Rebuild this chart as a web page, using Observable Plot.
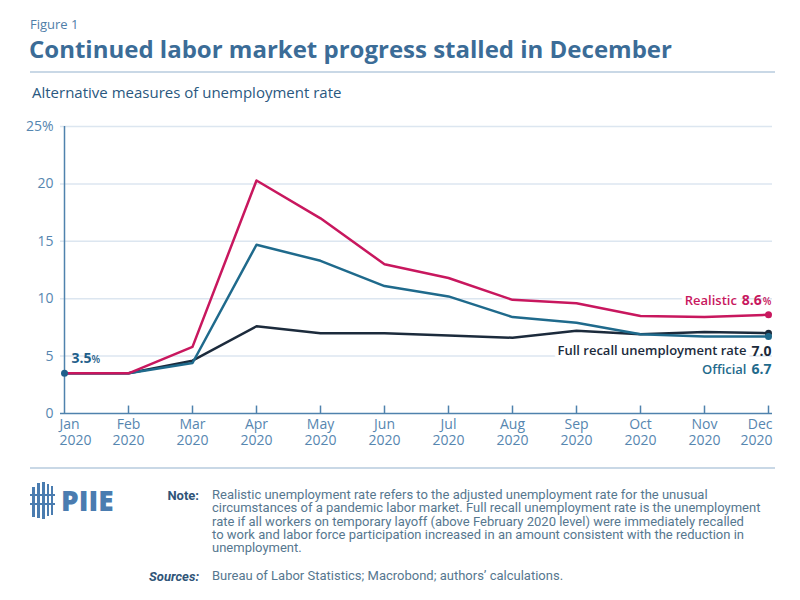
<!DOCTYPE html>
<html><head><meta charset="utf-8">
<script src="https://cdn.jsdelivr.net/npm/d3@7"></script>
<script src="https://cdn.jsdelivr.net/npm/@observablehq/plot@0.6"></script>
<style>
body{margin:0;background:#fff;width:800px;height:600px;position:relative;font-family:"Open Sans",sans-serif;overflow:hidden}
.abs{position:absolute;white-space:nowrap}
.note{position:absolute;left:212px;top:488px;font-family:Roboto,sans-serif;font-size:13px;line-height:13.3px;color:#56778f;white-space:nowrap}
.lab{position:absolute;font-family:Roboto,sans-serif;font-size:13px;font-weight:700;color:#2f5478;text-align:right;width:60px}
</style></head><body>
<div class="abs" style="left:30px;top:15px;font-size:13px;color:#4f7ea8">Figure 1</div>
<div class="abs" style="left:29px;top:32px;font-size:24px;font-weight:700;color:#3b6c97">Continued labor market progress stalled in December</div>
<div style="position:absolute;left:30px;top:71px;width:745px;height:2px;background:#c9d8e6"></div>
<div class="abs" style="left:32px;top:82px;font-size:15px;color:#2a5880">Alternative measures of unemployment rate</div>
<div id="chart" style="position:absolute;left:0;top:110px"></div>
<div style="position:absolute;left:30px;top:467px;width:745px;height:2px;background:#c9d8e6"></div>
<svg style="position:absolute;left:28px;top:480px" width="95" height="42" viewBox="0 0 95 42">
  <g fill="#4a7cb0">
    <rect x="4" y="7" width="3" height="30"/><rect x="9" y="3" width="3" height="35"/><rect x="14" y="2" width="3" height="37"/>
    <rect x="19" y="4" width="2" height="32"/><rect x="23" y="6" width="2" height="29"/>
    <rect x="2" y="14" width="25" height="2"/><rect x="2" y="23" width="25" height="2"/>
  </g>
  <text x="33" y="31" font-family="Open Sans" font-weight="800" font-size="28" fill="#4a7cb0">PIIE</text>
</svg>
<div class="lab" style="left:139px;top:488px">Note:</div>
<div class="note">Realistic unemployment rate refers to the adjusted unemployment rate for the unusual<br>circumstances of a pandemic labor market. Full recall unemployment rate is the unemployment<br>rate if all workers on temporary layoff (above February 2020 level) were immediately recalled<br>to work and labor force participation increased in an amount consistent with the reduction in<br>unemployment.</div>
<div class="lab" style="left:139px;top:569px;font-style:italic">Sources:</div>
<div class="note" style="top:569px">Bureau of Labor Statistics; Macrobond; authors’ calculations.</div>
<script>
const months = ["Jan","Feb","Mar","Apr","May","Jun","Jul","Aug","Sep","Oct","Nov","Dec"];
const year = "2020";
const realistic  = [3.5,3.5,5.8,20.3,17.0,13.0,11.8,9.9,9.6,8.5,8.4,8.6];
const official   = [3.5,3.5,4.4,14.7,13.3,11.1,10.2,8.4,7.9,6.9,6.7,6.7];
const fullRecall = [3.5,3.5,4.6,7.6,7.0,7.0,6.8,6.6,7.2,6.9,7.1,7.0];
const seriesNames = ["Full recall unemployment rate","Official","Realistic"];
const seriesColors = ["#1c2b3c","#1f6a8c","#c8175e"];
const endLabels = ["Full recall unemployment rate","Official","Realistic"];
const endValues = ["7.0","6.7","8.6"];
const endPct = ["","","%"];
const yTicks = [0,5,10,15,20,25];

const seriesValues = [fullRecall, official, realistic];
const rows = seriesNames.flatMap((s,i) => months.map((m,j) => ({series: s, month: m, value: seriesValues[i][j]})));
const ends = rows.filter(d => d.month === months[months.length-1]);
const start = rows.filter(d => d.series === "Official" && d.month === months[0]);
const colorOf = s => seriesColors[seriesNames.indexOf(s)];

const ctx = document.createElement("canvas").getContext("2d");
function tw(str, size, weight) { ctx.font = `${weight} ${size}px "Open Sans"`; return ctx.measureText(str).width; }

const axisColor = "#4f82ad";
const labDy = {"Realistic": -14, "Full recall unemployment rate": 18, "Official": 33};
const labelRows = ends.map(d => {
  const i = endLabels.indexOf(d.series);
  const pw = endPct[i] ? tw(endPct[i], 10, 600) + 1 : 0;
  const vw = tw(endValues[i], 14, 700);
  return {...d, name: endLabels[i], val: endValues[i], pct: endPct[i], pw, vw};
});

const textMarks = [];
for (const d of labelRows) {
  const dy = labDy[d.series];
  const fill = colorOf(d.series);
  textMarks.push(Plot.text([d], {x: "month", y: "value", text: "name", textAnchor: "end", dx: 3 - d.pw - d.vw - 5, dy, fill, fontSize: 13, fontWeight: 600, stroke: "white", strokeWidth: 8}));
  textMarks.push(Plot.text([d], {x: "month", y: "value", text: "val", textAnchor: "end", dx: 3 - d.pw, dy, fill, fontSize: 14, fontWeight: 700}));
  if (d.pct) textMarks.push(Plot.text([d], {x: "month", y: "value", text: "pct", textAnchor: "end", dx: 3, dy: dy + 1, fill, fontSize: 10, fontWeight: 600}));
}
const sv = start[0];
const svw = tw(sv.value.toFixed(1), 14, 700);

const xLab = d => `${d}\n${year}`;
const plot = Plot.plot({
  width: 800, height: 360,
  marginLeft: 60, marginRight: 28, marginTop: 16, marginBottom: 57,
  x: {type: "point", domain: months, padding: 0},
  y: {domain: [0, 25]},
  color: {domain: seriesNames, range: seriesColors},
  style: {fontFamily: "Open Sans", fontSize: "14px", color: axisColor, background: "transparent"},
  marks: [
    Plot.ruleY(yTicks.slice(1), {stroke: "#dce6f0", strokeWidth: 1.5}),
    Plot.axisY(yTicks, {tickSize: 0, tickPadding: 7, tickFormat: d => d === 25 ? "25%" : String(d), fill: "#5686b0", fontSize: 14, label: null}),
    Plot.axisX(months.slice(1, -1), {tickSize: 0, tickPadding: 5, tickFormat: xLab, fill: "#5686b0", fontSize: 14, lineHeight: 1.1, label: null}),
    Plot.axisX([months[0]], {tickSize: 0, tickPadding: 5, tickFormat: xLab, fill: "#5686b0", fontSize: 14, lineHeight: 1.1, textAnchor: "start", dx: -5, label: null}),
    Plot.axisX([months[11]], {tickSize: 0, tickPadding: 5, tickFormat: xLab, fill: "#5686b0", fontSize: 14, lineHeight: 1.1, textAnchor: "end", dx: 4, label: null}),
    Plot.ruleX(months.slice(1), {y1: 0, y2: 0.65, stroke: axisColor, strokeWidth: 1.5}),
    Plot.ruleY([0], {stroke: axisColor, strokeWidth: 1.5}),
    Plot.ruleX([months[0]], {stroke: axisColor, strokeWidth: 1.5}),
    ...textMarks,
    Plot.line(rows, {x: "month", y: "value", z: "series", stroke: "series", strokeWidth: 2.5}),
    Plot.dot(ends, {x: "month", y: "value", fill: "series", r: 3.5}),
    Plot.dot(start, {x: "month", y: "value", fill: "#1f5f8b", r: 3.5}),
    Plot.text(start, {x: "month", y: "value", text: d => d.value.toFixed(1), textAnchor: "start", dx: 7, dy: -15, fill: "#1f5f8b", fontSize: 14, fontWeight: 700}),
    Plot.text(start, {x: "month", y: "value", text: () => "%", textAnchor: "start", dx: 7 + svw, dy: -14, fill: "#1f5f8b", fontSize: 10, fontWeight: 600})
  ]
});
document.getElementById("chart").appendChild(plot);
</script>
</body></html>
